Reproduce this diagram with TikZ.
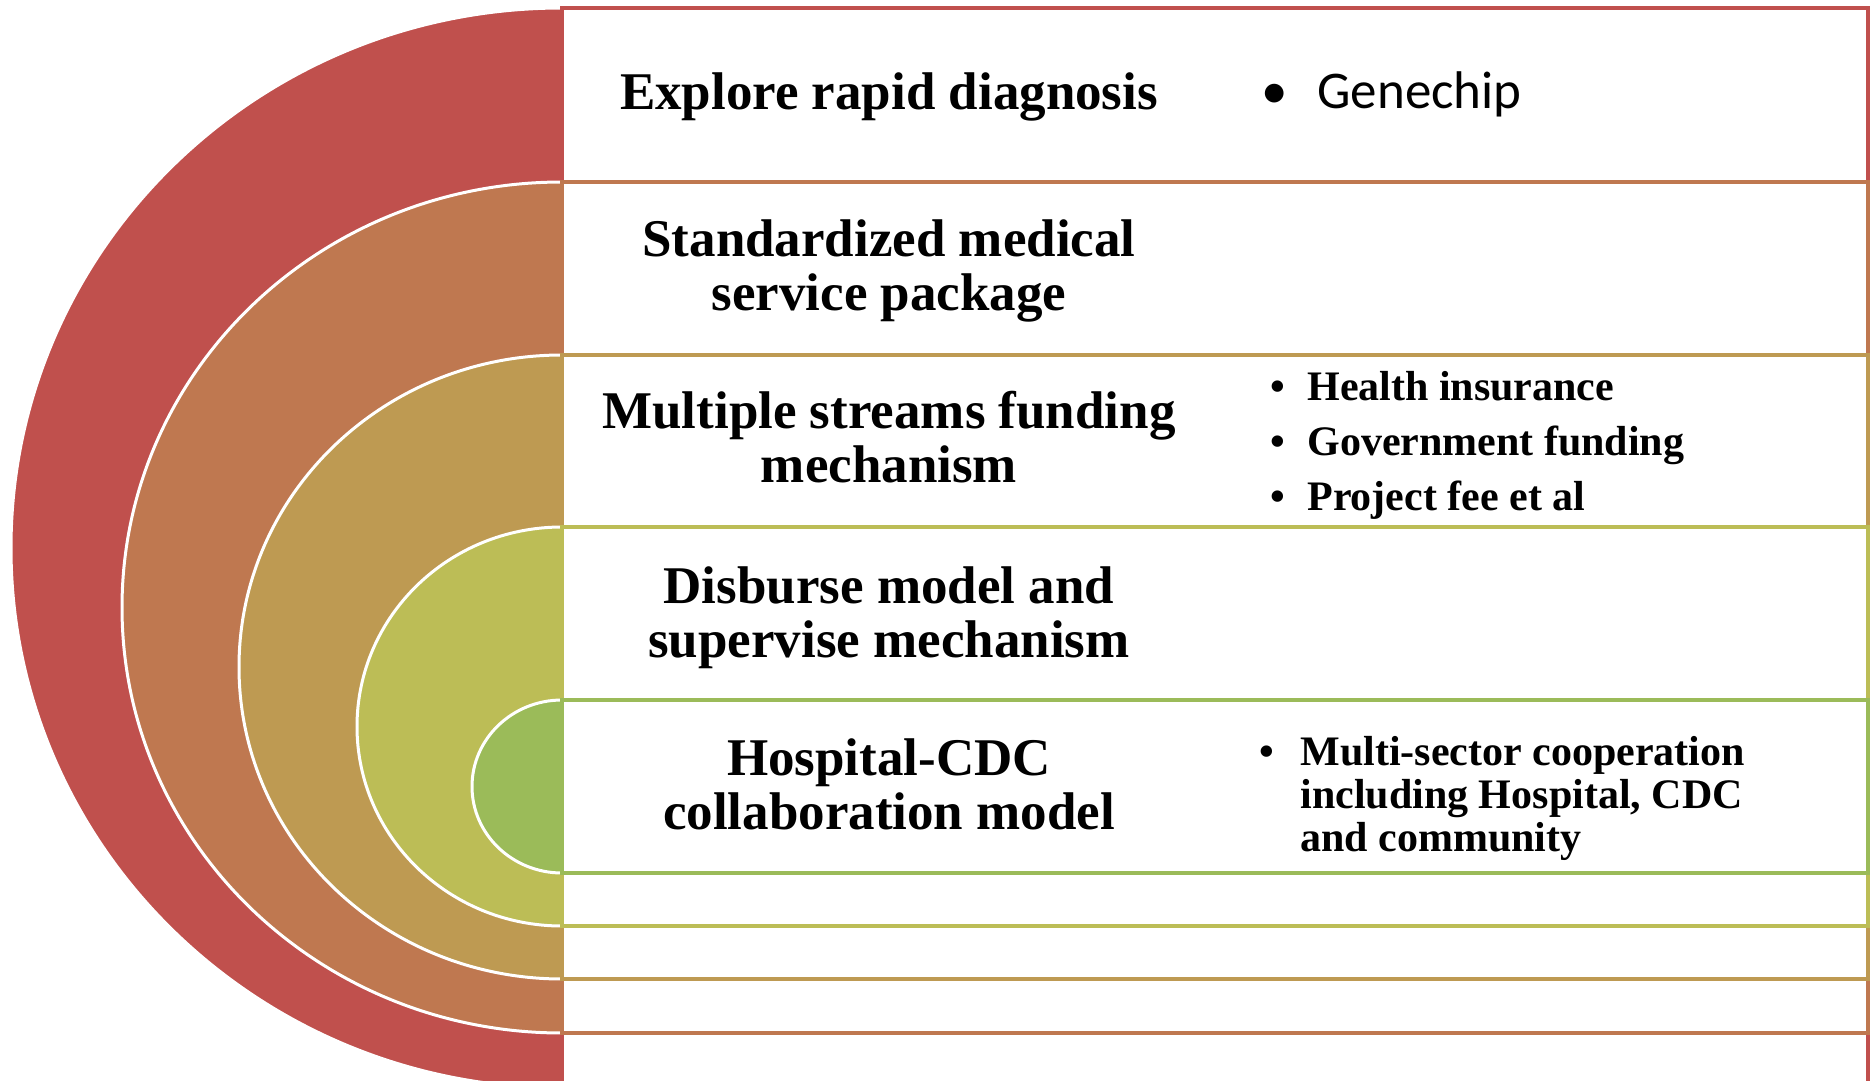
\documentclass[tikz,border=0pt]{standalone}
\usepackage{fontspec}
\setmainfont{Liberation Serif}
\newfontfamily\calibriFont{Carlito}
\usetikzlibrary{positioning}
\definecolor{ringRed}{RGB}{192,80,77}
\definecolor{ringOrange}{RGB}{191,120,80}
\definecolor{ringGold}{RGB}{190,154,82}
\definecolor{ringOlive}{RGB}{188,189,86}
\definecolor{ringGreen}{RGB}{155,187,89}
\tikzset{
    ringFill/.style={draw=white, line width=1.5pt},
    rowBox/.style={fill=white, line width=2.2pt},
    titleText/.style={font=\bfseries\fontsize{26.5}{27}\selectfont, align=center, inner sep=0pt},
    itemText/.style={font=\bfseries\fontsize{21}{27.5}\selectfont, align=left, anchor=west, inner sep=0pt},
}
\newcommand{\drawRing}[4]{
    % half ellipse on the left, its row box on the right
    \filldraw[ringFill, fill=#1] (562,{(#2+#3)/2}) ellipse [x radius=#4, y radius={(#3-#2)/2}];
    \draw[rowBox, draw=#1] (562,#2) rectangle (1868,#3);
}
\begin{document}
\begin{tikzpicture}[x=0.5pt, y=-0.5pt]

        \useasboundingbox (0,0) rectangle (1874,1081);
        \clip (0,0) rectangle (1874,1081);

        \drawRing{ringRed}{8}{1088}{551}
        \drawRing{ringOrange}{182}{1033}{440}
        \drawRing{ringGold}{355}{979}{323}
        \drawRing{ringOlive}{527}{926}{205}
        \drawRing{ringGreen}{700}{873}{90}

        \node[titleText] (explore) at (889,97) {Explore rapid diagnosis};
        \node[titleText] (package) at (889,271) {Standardized medical\\service package};
        \node[titleText] (funding) at (889,437) {Multiple streams funding\\mechanism};
        \node[titleText] (disburse) at (889,618) {Disburse model and\\supervise mechanism};
        \node[titleText] (collab) at (889,784) {Hospital-CDC\\collaboration model};

        \node[anchor=west, inner sep=0pt, font=\calibriFont\fontsize{26.5}{27}\selectfont] (genechip) at (1317,94) {\llap{\textbullet\hspace{15pt}}Genechip};
        \node[itemText] (fundList) at (1307,445) {\llap{\textbullet\hspace{11pt}}Health insurance\\\llap{\textbullet\hspace{11pt}}Government funding\\\llap{\textbullet\hspace{11pt}}Project fee et al};
        \node[itemText, font=\bfseries\fontsize{21}{21.5}\selectfont] (sectorList) at (1300,798) {\llap{\textbullet\hspace{13pt}}Multi-sector cooperation\\including Hospital, CDC\\and community};

    \end{tikzpicture}
\end{document}
